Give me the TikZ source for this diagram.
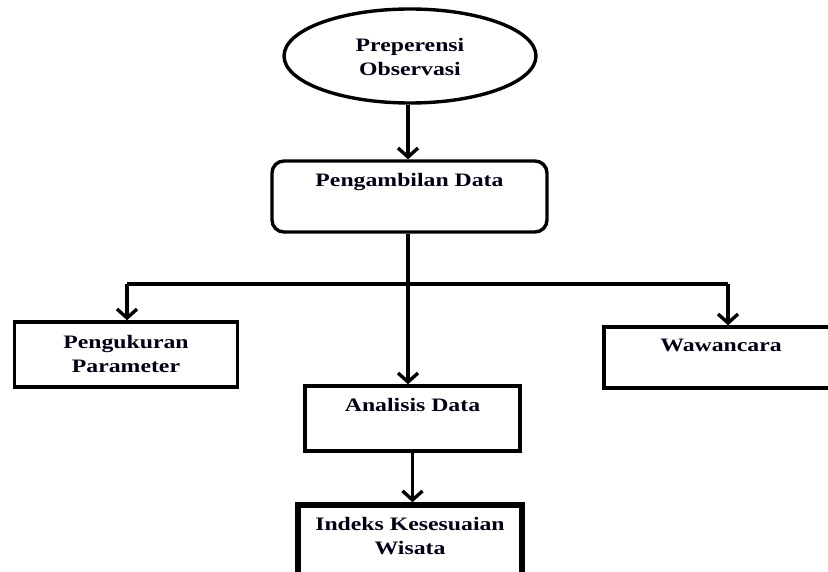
\documentclass[tikz,border=0pt]{standalone}
\usepackage{fontspec}
\setmainfont{Liberation Serif}[FakeStretch=1.25]
\usetikzlibrary{shapes.geometric,arrows.meta}
\tikzset{
  box/.style={draw, line width=3.4pt, rectangle, inner sep=0pt},
  lbl/.style={anchor=center, align=center, font=\fontsize{19}{24}\selectfont\bfseries, text=black!92!blue},
  conn/.style={line width=3.4pt},
  arr/.style={conn, -{Straight Barb[length=9pt,width=20pt,line width=3.4pt]}},
}
\begin{document}
\begin{tikzpicture}[x=1pt,y=-1pt]
\useasboundingbox (0,0) rectangle (828,572);
\clip (0,0) rectangle (828,572);
\fill[white] (0,0) rectangle (828,572);
% nodes
\node[draw, ellipse, line width=3.4pt, minimum width=252pt, minimum height=94pt, inner sep=0pt] (ell) at (410,56) {};
\node[lbl] (ellt) at (410,57) {Preperensi\\Observasi};
\node[box, rounded corners=12pt, minimum width=275pt, minimum height=71pt] (pa) at (409.5,196.5) {};
\node[lbl] (pat) at (409.5,182) {Pengambilan Data};
\node[box, minimum width=223pt, minimum height=65pt] (pk) at (126,354.5) {};
\node[lbl] (pkt) at (126,354) {Pengukuran\\Parameter};
\node[box, minimum width=240pt, minimum height=61pt] (ww) at (724,357.5) {};
\node[lbl] (wwt) at (721,345) {Wawancara};
\node[box, minimum width=215pt, minimum height=65pt] (an) at (412.5,418.5) {};
\node[lbl] (ant) at (412.5,405) {Analisis Data};
\node[box, line width=5.5pt, minimum width=224pt, minimum height=100pt] (ik) at (410,555) {};
\node[lbl] (ikt) at (410,536) {Indeks Kesesuaian\\Wisata};
% connectors
\coordinate (br) at (408,284);
\coordinate (bl) at (127,284);
\coordinate (brr) at (728,284);
\draw[arr] (ell.south -| br) -- (br |- pa.north);
\draw[arr] (br |- pa.south) -- (br |- an.north);
\draw[conn] (bl) -- (brr);
\draw[arr] (bl) -- (bl |- pk.north);
\draw[arr] (brr) -- (brr |- ww.north);
\draw[arr] (an.south) -- (an.south |- ik.north);
\end{tikzpicture}
\end{document}
